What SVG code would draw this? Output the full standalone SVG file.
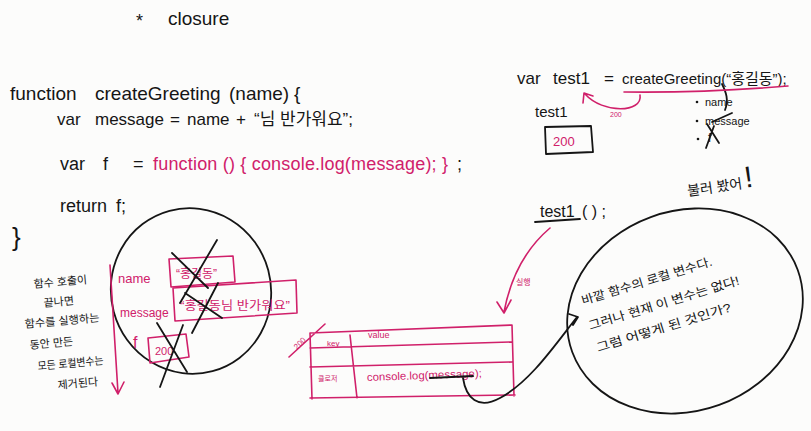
<svg xmlns="http://www.w3.org/2000/svg" width="811" height="431" viewBox="0 0 811 431">
<defs>
<style>
.t{font-family:"Liberation Sans","Noto Sans CJK KR",sans-serif;fill:#151515}
.p{fill:#d0206a}
.ln{stroke:#151515;stroke-width:1.8;fill:none;stroke-linecap:round;stroke-linejoin:round}
.pl{stroke:#d0206a;stroke-width:1.6;fill:none;stroke-linecap:round;stroke-linejoin:round}
</style>
</defs>
<rect width="811" height="431" fill="#fcfcfb"/>

<g id="title">
<text class="t" x="136" y="27" font-size="18">*</text>
<text class="t" x="168" y="25" font-size="19">closure</text>
</g>

<g id="code">
<text class="t" x="10" y="100" font-size="19">function</text>
<text class="t" x="95" y="100" font-size="19">createGreeting</text>
<text class="t" x="229" y="100" font-size="19">(name)</text>
<text class="t" x="294" y="100" font-size="19">{</text>
<text class="t" x="57" y="125" font-size="17">var</text>
<text class="t" x="95" y="125" font-size="17">message</text>
<text class="t" x="170" y="125" font-size="17">=</text>
<text class="t" x="187" y="125" font-size="17">name</text>
<text class="t" x="236" y="125" font-size="17">+</text>
<text class="t" x="254" y="125" font-size="17">“님 반가워요”;</text>
<text class="t" x="60" y="170" font-size="18">var</text>
<text class="t" x="103" y="170" font-size="18">f</text>
<text class="t" x="133" y="170" font-size="18">=</text>
<text class="t p" x="153" y="170" font-size="18" textLength="295" lengthAdjust="spacing">function ()  {  console.log(message);  }</text>
<text class="t" x="457" y="170" font-size="18">;</text>
<text class="t" x="60" y="212" font-size="18">return</text>
<text class="t" x="116" y="212" font-size="18">f;</text>
<text class="t" x="12" y="246" font-size="26">}</text>
</g>

<g id="scope-frame">
<ellipse class="ln" cx="191" cy="291" rx="80" ry="83" transform="rotate(-15 191 291)"/>
<text class="t p" x="118" y="283" font-size="13">name</text>
<path class="pl" d="M169,259 L233,256 L235,282 L171,287 Z"/>
<text class="t p" x="176" y="278" font-size="12">“홍길동”</text>
<text class="t p" x="120" y="317" font-size="12">message</text>
<path class="pl" d="M173,288 L296,280 L297,313 L175,321 Z"/>
<text class="t p" x="180" y="310" font-size="12" textLength="110" lengthAdjust="spacingAndGlyphs">“홍길동님 반가워요”</text>
<text class="t p" x="133" y="348" font-size="16">f</text>
<path class="pl" d="M148,338 L186,334 L189,357 L150,363 Z"/>
<text class="t p" x="155" y="355" font-size="11">200</text>
<path class="ln" d="M172,253 L208,288 M217,240 L180,303 M185,293 L222,318 M218,283 L192,333 M157,323 L187,372 M183,325 L160,387"/>
</g>

<g id="left-note">
<text class="t" x="34" y="288" font-size="11" transform="rotate(-5 34 288)">함수 호출이</text>
<text class="t" x="44" y="307" font-size="11" transform="rotate(-5 44 307)">끝나면</text>
<text class="t" x="25" y="328" font-size="11" transform="rotate(-5 25 328)" textLength="75" lengthAdjust="spacingAndGlyphs">함수를 실행하는</text>
<text class="t" x="30" y="349" font-size="11" transform="rotate(-5 30 349)">동안 만든</text>
<text class="t" x="38" y="370" font-size="11" transform="rotate(-5 38 370)" textLength="66" lengthAdjust="spacingAndGlyphs">모든 로컬변수는</text>
<text class="t" x="58" y="389" font-size="11" transform="rotate(-5 58 389)">제거된다</text>
</g>

<g id="call-top">
<text class="t" x="517" y="84" font-size="17">var</text>
<text class="t" x="553" y="84" font-size="17">test1</text>
<text class="t" x="604" y="84" font-size="17">=</text>
<text class="t" x="622" y="84" font-size="15">createGreeting(“홍길동”);</text>
<text class="t p" x="610" y="117" font-size="7">200</text>
</g>

<g id="test1-box">
<text class="t" x="535" y="117" font-size="15">test1</text>
<path class="ln" d="M545,127 L591,126 L593,152 L546,154 Z"/>
<text class="t p" x="553" y="146" font-size="13">200</text>
</g>

<g id="struck-list">
<circle cx="697" cy="102" r="1.3" fill="#151515"/>
<text class="t" x="705" y="106" font-size="11">name</text>
<circle cx="697" cy="121" r="1.3" fill="#151515"/>
<text class="t" x="705" y="125" font-size="11">message</text>
<circle cx="698" cy="139" r="1.3" fill="#151515"/>
<text class="t" x="708" y="142" font-size="12">f</text>
<path class="ln" d="M722,84 C726,92 729,100 725,110 M712,122 L732,113 M707,124 L719,143 M714,126 L706,148"/>
</g>

<g id="exclaim">
<text class="t" x="688" y="196" font-size="14" transform="rotate(-8 688 196)">불러 봤어<tspan font-size="30" dx="3">!</tspan></text>
</g>

<g id="call2">
<text class="t" x="540" y="217" font-size="16">test1</text>
<text class="t" x="582" y="217" font-size="16">( ) ;</text>
<path class="ln" d="M535,222 L580,219" stroke-width="1.4"/>
<text class="t p" x="516" y="285" font-size="8">실행</text>
</g>

<g id="table">
<path class="pl" d="M310,333 L512,325 M310,348 L512,342 M310,367 L512,362 M310,398 L515,395 M310,333 L312,399 M512,325 L514,396 M350,335 L357,398 M289,357 L325,324"/>
<text class="t p" x="297" y="350" font-size="8" transform="rotate(-45 297 350)">200</text>
<text class="t p" x="327" y="346" font-size="8">key</text>
<text class="t p" x="368" y="338" font-size="9">value</text>
<text class="t p" x="318" y="381" font-size="7">클로저</text>
<text class="t p" x="367" y="381" font-size="11" textLength="115" lengthAdjust="spacingAndGlyphs" transform="rotate(-2 367 381)">console.log(message);</text>
<path class="ln" d="M430,378 L473,376" stroke-width="1.3"/>
</g>

<g id="right-bubble">
<ellipse class="ln" cx="685" cy="311" rx="120" ry="100" transform="rotate(-20 685 311)"/>
<text class="t" x="583" y="305" font-size="12" textLength="136" lengthAdjust="spacingAndGlyphs" transform="rotate(-17 583 305)">바깥 함수의 로컬 변수다.</text>
<text class="t" x="590" y="330" font-size="12" textLength="157" lengthAdjust="spacingAndGlyphs" transform="rotate(-17 590 330)">그러나 현재 이 변수는 없다!</text>
<text class="t" x="598" y="352" font-size="12" textLength="140" lengthAdjust="spacingAndGlyphs" transform="rotate(-17 598 352)">그럼 어떻게 된 것인가?</text>
</g>

<g id="connectors">
<path class="pl" d="M110,265 L118,393 M112,383 L118,394 L124,382"/>
<path class="pl" d="M624,92 Q706,93 788,86"/>
<path class="pl" d="M640,95 C643,113 603,114 585,94 M583,103 L584,93 L593,96"/>
<path class="pl" d="M550,228 C530,245 512,270 504,312 M497,302 L504,313 L511,300"/>
<path class="ln" d="M463,378 C466,398 478,410 500,398 C530,382 555,345 577,317 M569,314 L578,317 L573,325" stroke-width="1.3"/>
</g>
</svg>
